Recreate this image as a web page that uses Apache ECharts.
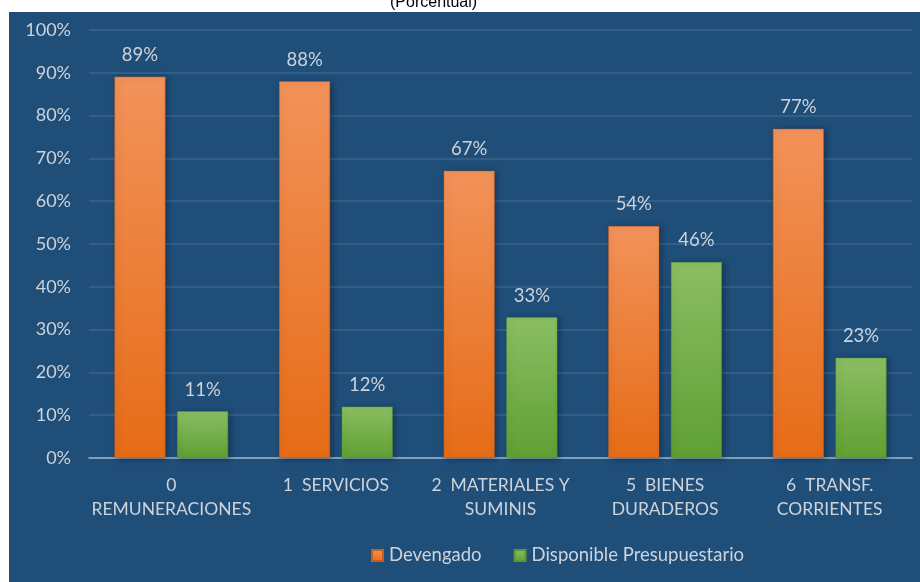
<!DOCTYPE html>
<html>
<head>
<meta charset="utf-8">
<script src="https://cdn.jsdelivr.net/npm/echarts@6/dist/echarts.min.js"></script>
<style>
html,body{margin:0;padding:0;background:#ffffff;}
#chart{width:920px;height:582px;}
</style>
</head>
<body>
<div id="chart"></div>
<script>
const categories = ['0\nREMUNERACIONES', '1  SERVICIOS', '2  MATERIALES Y\nSUMINIS', '5  BIENES\nDURADEROS', '6  TRANSF.\nCORRIENTES'];
const devengado = [89.1, 88.0, 67.1, 54.2, 76.9];
const disponible = [10.9, 12.0, 32.9, 45.8, 23.4];
const yTicks = [0, 10, 20, 30, 40, 50, 60, 70, 80, 90, 100];

const chart = echarts.init(document.getElementById('chart'));
const labelColor = '#CDD3DA';
const font = 'Lato, "Open Sans", sans-serif';

chart.setOption({
  animation: false,
  backgroundColor: '#ffffff',
  graphic: [
    { type: 'rect', left: 9, top: 12, shape: { width: 911, height: 570 }, style: { fill: '#1F4E79' }, z: -10 },
    { type: 'text', left: 390, top: -5, style: { text: '(Porcentual)', font: '16px Arial, "Liberation Sans", sans-serif', fill: '#000000' }, z: 10 }
  ],
  grid: { left: 89, right: 8, top: 30, bottom: 124, containLabel: false },
  legend: {
    bottom: 12,
    left: 366,
    itemWidth: 11,
    itemHeight: 11,
    itemGap: 32,
    icon: 'rect',
    textStyle: { color: labelColor, fontSize: 18.5, fontFamily: font, padding: [0, 0, 0, 1] },
    data: ['Devengado', 'Disponible Presupuestario']
  },
  xAxis: {
    type: 'category',
    data: categories,
    axisLine: { lineStyle: { color: '#9DB3C8', width: 1.5 } },
    axisTick: { show: false },
    axisLabel: { color: labelColor, fontSize: 17.5, fontFamily: font, lineHeight: 24, margin: 15, interval: 0 }
  },
  yAxis: {
    type: 'value',
    min: 0,
    max: 100,
    interval: 10,
    axisLine: { show: false },
    axisTick: { show: false },
    splitLine: { lineStyle: { color: '#3A6690', width: 1.5 } },
    axisLabel: {
      color: labelColor, fontSize: 18, fontFamily: font, margin: 18,
      formatter: function (v) { return yTicks.indexOf(v) >= 0 ? v + '%' : ''; }
    }
  },
  series: [
    {
      name: 'Devengado',
      type: 'bar',
      data: devengado,
      barGap: '23%',
      barCategoryGap: '31%',
      itemStyle: {
        color: new echarts.graphic.LinearGradient(0, 0, 0, 1, [
          { offset: 0, color: '#F2925A' },
          { offset: 1, color: '#E66C17' }
        ]),
        borderColor: '#C85E1A',
        borderWidth: 0.5,
        shadowColor: 'rgba(0,0,0,0.35)',
        shadowBlur: 6,
        shadowOffsetX: 2,
        shadowOffsetY: 1
      },
      label: {
        show: true, position: 'top', distance: 12,
        color: labelColor, fontSize: 18.5, fontFamily: font,
        formatter: function (p) { return Math.round(p.value) + '%'; }
      }
    },
    {
      name: 'Disponible Presupuestario',
      type: 'bar',
      data: disponible,
      itemStyle: {
        color: new echarts.graphic.LinearGradient(0, 0, 0, 1, [
          { offset: 0, color: '#8BBE63' },
          { offset: 1, color: '#5FA033' }
        ]),
        borderColor: '#589A30',
        borderWidth: 0.5,
        shadowColor: 'rgba(0,0,0,0.35)',
        shadowBlur: 6,
        shadowOffsetX: 2,
        shadowOffsetY: 1
      },
      label: {
        show: true, position: 'top', distance: 12,
        color: labelColor, fontSize: 18.5, fontFamily: font,
        formatter: function (p) { return Math.round(p.value) + '%'; }
      }
    }
  ]
});
</script>
</body>
</html>
